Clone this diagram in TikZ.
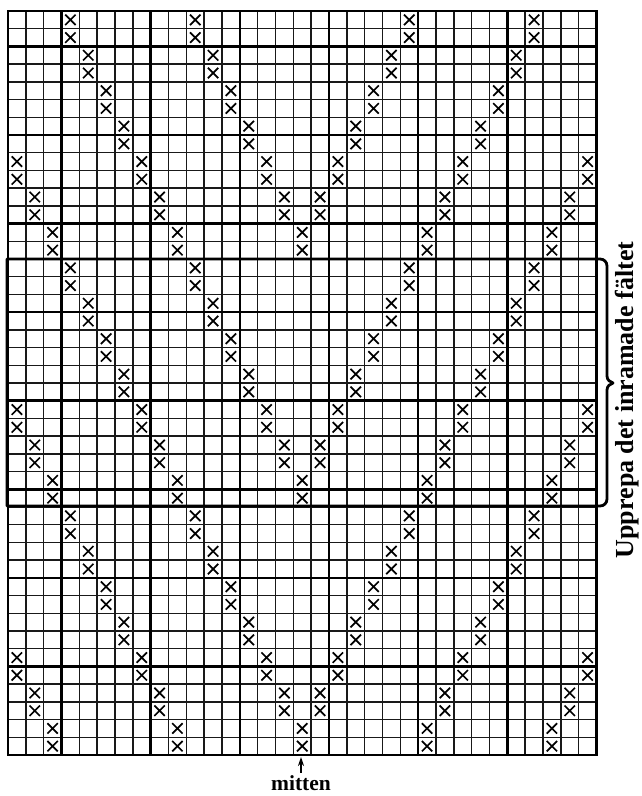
\documentclass[tikz,border=0pt]{standalone}
\usepackage{fontspec}
\setmainfont{Liberation Serif}
\usetikzlibrary{arrows.meta}
\tikzset{
  thinline/.style={line width=1.4pt, draw=black!90},
  thickline/.style={line width=2.5pt, draw=black, line cap=rect},
  xmark/.style={line width=1.7pt, draw=black},
  framebox/.style={line width=2.8pt, draw=black, line join=round},
  lbl/.style={font=\bfseries\fontsize{26}{26}\selectfont, inner sep=0pt},
  mlbl/.style={font=\bfseries\fontsize{21.5}{21.5}\selectfont, inner sep=0pt}
}
\begin{document}
\begin{tikzpicture}[x=1pt,y=-1pt]
\useasboundingbox (0,0) rectangle (641,796);
\fill[white] (0,0) rectangle (641,796);
\def\gx{8}\def\gw{17.833}\def\gy{11}\def\gh{17.714}
% thin grid
\foreach \i in {0,...,33}{\draw[thinline] ({\gx+\i*\gw},\gy) -- ({\gx+\i*\gw},{\gy+42*\gh});}
\foreach \j in {0,...,42}{\draw[thinline] (\gx,{\gy+\j*\gh}) -- ({\gx+33*\gw},{\gy+\j*\gh});}
% thick grid
\foreach \i in {0,3,8,13,18,23,28,33}{\draw[thickline] ({\gx+\i*\gw},\gy) -- ({\gx+\i*\gw},{\gy+42*\gh});}
\foreach \j in {0,2,7,12,17,22,27,32,37,42}{\draw[thickline] (\gx,{\gy+\j*\gh}) -- ({\gx+33*\gw},{\gy+\j*\gh});}
% X marks
\foreach \r in {0,...,41}{
  \foreach \c in {0,...,32}{
    \pgfmathtruncatemacro\q{mod(int(\r/2),7)}
    \pgfmathtruncatemacro\cp{min(\c,32-\c)}
    \pgfmathtruncatemacro\t{mod(\cp-\q+4,7)}
    \ifnum\t=0
      \draw[xmark] ({\gx+(\c+0.5)*\gw-5.2},{\gy+(\r+0.5)*\gh-5.2}) -- ({\gx+(\c+0.5)*\gw+5.2},{\gy+(\r+0.5)*\gh+5.2})
                   ({\gx+(\c+0.5)*\gw-5.2},{\gy+(\r+0.5)*\gh+5.2}) -- ({\gx+(\c+0.5)*\gw+5.2},{\gy+(\r+0.5)*\gh-5.2});
    \fi
  }
}
% frame with brace on right
\draw[framebox] (7,259) -- (600,259) .. controls (604,259) and (607,262) .. (607,266)
  -- (607,376) .. controls (607,380) and (610,382) .. (613,383)
  .. controls (610,384) and (607,386) .. (607,390)
  -- (607,499) .. controls (607,503) and (604,506) .. (600,506) -- (7,506) -- cycle;
% labels
\node[lbl, rotate=90, anchor=base] (rep) at (633,400) {Upprepa det inramade fältet};
\node[mlbl, anchor=base] (mitten) at (301,790) {mitten};
\coordinate (mid) at (301,757);
\draw[-{Stealth[length=9pt,width=6pt]}, line width=1.3pt] (mitten.north) ++(0,-2) -- (mid);
\end{tikzpicture}
\end{document}
